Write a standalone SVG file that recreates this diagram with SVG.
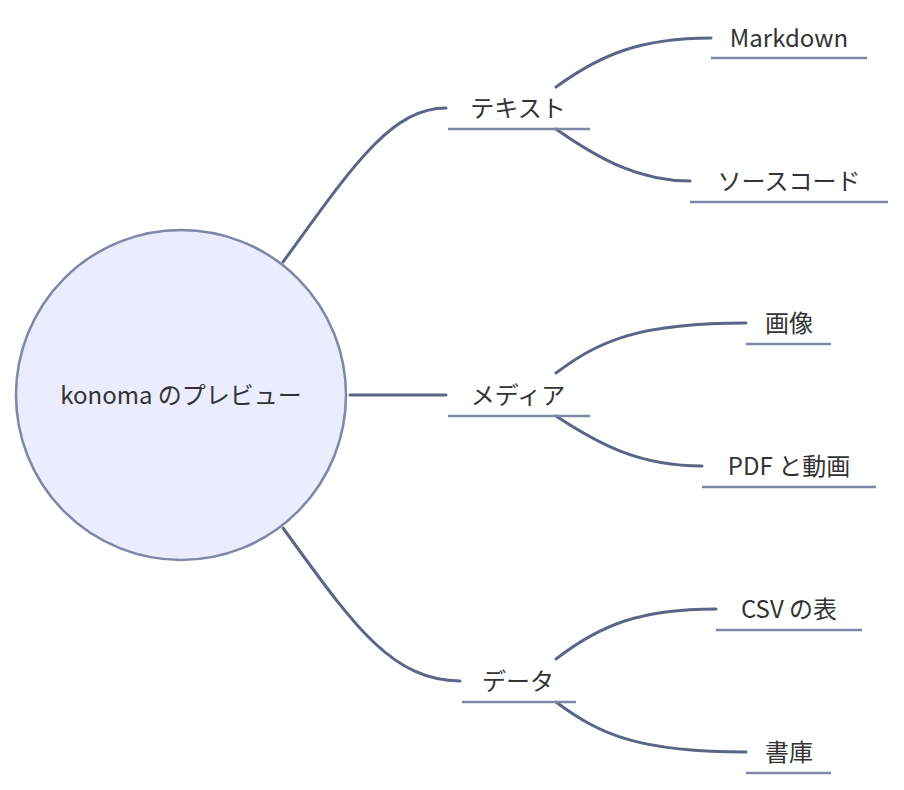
<svg xmlns="http://www.w3.org/2000/svg" width="904" height="790" viewBox="0 0 904 790">
<style>
.c{fill:none;stroke:#5a6587;stroke-width:3;stroke-linecap:round}
.u{stroke:#7f86a8;stroke-width:2.5}
text{font-family:"Noto Sans CJK JP","Noto Sans",sans-serif;font-size:24px;fill:#333;text-anchor:middle}
</style>
<rect width="904" height="790" fill="#fff"/>
<g id="connectors">
<path class="c" d="M283,262 C350,170 390,108 446,108"/>
<path class="c" d="M350,395 L446,395"/>
<path class="c" d="M283,528 C350,620 390,681 460,681"/>
<path class="c" d="M556,87 C600,55 640,38 711,38"/>
<path class="c" d="M556,129 C600,160 640,181 690,181"/>
<path class="c" d="M556,373 C600,340 640,323 746,323"/>
<path class="c" d="M556,416 C600,445 640,466 702,466"/>
<path class="c" d="M556,659 C600,625 640,609 716,609"/>
<path class="c" d="M556,702 C600,735 640,752 746,752"/>
</g>
<g id="root"><circle cx="181" cy="395" r="165" fill="#ececff" stroke="#7f86a8" stroke-width="2.5"/><text x="181" y="404">konoma のプレビュー</text></g>
<g id="n1"><text x="518" y="117">テキスト</text><line class="u" x1="448" y1="129" x2="590" y2="129"/></g>
<g id="n11"><text x="789" y="47">Markdown</text><line class="u" x1="711" y1="58" x2="867" y2="58"/></g>
<g id="n12"><text x="789" y="190">ソースコード</text><line class="u" x1="690" y1="202" x2="888" y2="202"/></g>
<g id="n2"><text x="518" y="404">メディア</text><line class="u" x1="448" y1="416" x2="590" y2="416"/></g>
<g id="n21"><text x="789" y="332">画像</text><line class="u" x1="746" y1="344" x2="831" y2="344"/></g>
<g id="n22"><text x="789" y="475">PDF と動画</text><line class="u" x1="702" y1="487" x2="876" y2="487"/></g>
<g id="n3"><text x="518" y="690">データ</text><line class="u" x1="462" y1="702" x2="576" y2="702"/></g>
<g id="n31"><text x="789" y="618">CSV の表</text><line class="u" x1="716" y1="630" x2="862" y2="630"/></g>
<g id="n32"><text x="789" y="761">書庫</text><line class="u" x1="746" y1="773" x2="831" y2="773"/></g>
</svg>
